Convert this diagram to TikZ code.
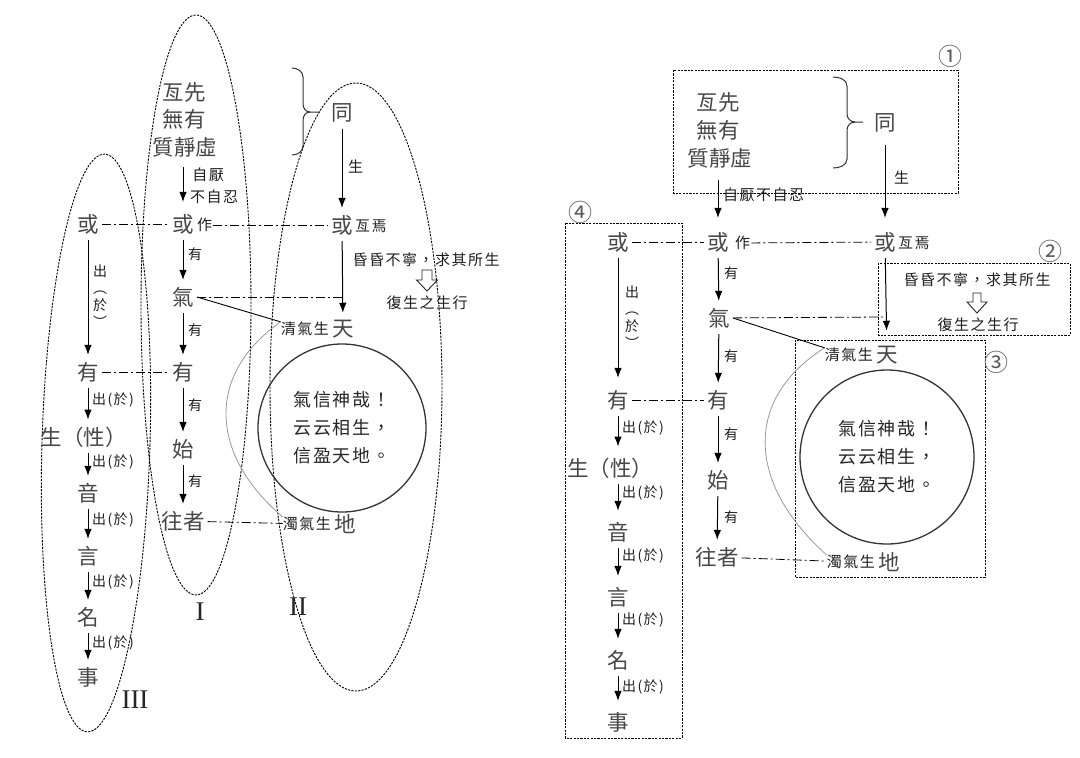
\documentclass[tikz,border=0pt]{standalone}
\usepackage{fontspec}
\setmainfont{Liberation Serif}
\newfontfamily\cjk{Noto Sans CJK TC}
\newfontfamily\cjks{Noto Sans CJK TC}[LetterSpace=10]
\usetikzlibrary{arrows.meta}
\begin{document}
\begin{tikzpicture}[x=1pt,y=-1pt,
  bigt/.style={font=\cjk\fontsize{21.5}{24}\selectfont, text=black!72, inner sep=3pt},
  smt/.style={font=\cjks\fontsize{15}{17}\selectfont, text=black!88, inner sep=1pt},
  labt/.style={font=\cjks\fontsize{14}{16}\selectfont, text=black!88, inner sep=1pt, anchor=west},
  vlab/.style={font=\cjks\fontsize{14}{17}\selectfont, text=black!88, inner sep=0pt, align=center},
  circ/.style={circle, draw=black!80, line width=1.3pt, inner sep=0pt, align=center,
    font=\cjks\fontsize{18}{28}\selectfont, text=black!85},
  numt/.style={font=\cjk\fontsize{24}{26}\selectfont, text=black!65, inner sep=0pt},
  romt/.style={font=\fontsize{27}{30}\selectfont, text=black!85, inner sep=0pt},
  arr/.style={-{Latex[length=10pt,width=7.5pt]}, line width=1pt, shorten <=3pt, shorten >=4pt},
  dd/.style={line width=0.8pt, dash pattern=on 9pt off 3pt on 2pt off 3pt},
  dsh/.style={line width=0.9pt, dash pattern=on 2.2pt off 1.2pt},
  brc/.style={line width=1pt, draw=black!80},
  gcurve/.style={line width=0.8pt, draw=black!40},
  obox/.style={line width=0.9pt, draw=black!85, line join=miter}
]
\fill[white] (0,0) rectangle (1080,758);
\useasboundingbox (0,0) rectangle (1080,758);

% ================= LEFT DIAGRAM =================
% ellipses
\draw[dsh, rotate around={-1.7:(96,443)}] (96,443) ellipse [x radius=54, y radius=289];
\draw[dsh] (196,305) ellipse [x radius=55, y radius=290];
\draw[dsh] (356,387) ellipse [x radius=86, y radius=304];

% column B top
\node[bigt] (xa1) at (184,92) {亙先};
\node[bigt] (xa2) at (184,119) {無有};
\node[bigt] (xa3) at (185,147) {質靜虛};
\node[smt] (zy1) at (208,175) {自厭};
\node[smt] (zy2) at (214,197) {不自忍};

% row 或
\node[bigt] (huoA) at (88,224) {或};
\node[bigt] (huoB) at (183,224) {或};
\node[smt, anchor=west] (zuo) at (196,225) {作};
\node[bigt] (tong) at (342,113) {同};
\node[smt, anchor=west] (sheng1) at (347,167) {生};
\node[bigt] (huoC) at (342,225) {或};
\node[smt, anchor=west] (yw) at (354,226) {亙焉};
\node[smt] (hun) at (426,260) {昏昏不寧，求其所生};
\node[smt] (fs) at (427,303) {復生之生行};

\node[bigt] (qiB) at (183,297) {氣};
\coordinate (qiend) at (342,297);
\node[bigt] (tian) at (343,329) {天};
\node[smt, anchor=east, inner sep=0pt] (qing) at (tian.west) {清氣生};
\node[bigt] (di) at (345,524) {地};
\node[smt, anchor=east, inner sep=0pt] (zhuo) at (di.west) {濁氣生};

\node[bigt] (youA) at (88,372) {有};
\node[bigt] (youB) at (183,372) {有};
\node[bigt] (shiB) at (183,449) {始};
\node[bigt] (wz) at (183,521) {往者};

\node[bigt] (sx) at (84,437) {生（性）};
\node[bigt] (yin) at (88,493) {音};
\node[bigt] (yan) at (88,556) {言};
\node[bigt] (ming) at (88,617) {名};
\node[bigt] (shi) at (88,677) {事};

\node[circ, minimum size=168pt] (cirL) at (342,428) {氣信神哉！\\云云相生，\\信盈天地。};

\node[romt] (r1) at (200,612) {I};
\node[romt] (r2) at (298,607) {II};
\node[romt] (r3) at (135,700) {III};

% labels
\node[vlab] (vl1) at (100,296) {出\\︵\\於\\︶};
\node[labt] (la1) at (91,400) {出(於)};
\node[labt] (la2) at (91,462) {出(於)};
\node[labt] (la3) at (91,520) {出(於)};
\node[labt] (la4) at (91,582) {出(於)};
\node[labt] (la5) at (91,643) {出(於)};
\node[labt] (lb1) at (187,254) {有};
\node[labt] (lb2) at (187,330) {有};
\node[labt] (lb3) at (187,405) {有};
\node[labt] (lb4) at (187,481) {有};

% arrows
\draw[arr, shorten <=7pt, shorten >=9pt] (xa3.south -| huoB) -- (huoB);
\draw[arr] (huoB) -- (qiB);
\draw[arr] (qiB) -- (youB);
\draw[arr] (youB) -- (shiB);
\draw[arr] (shiB) -- (wz);
\draw[arr] (huoA) -- (youA);
\draw[arr] (youA) -- (youA |- sx.north);
\draw[arr] (youA |- sx.south) -- (yin);
\draw[arr] (yin) -- (yan);
\draw[arr] (yan) -- (ming);
\draw[arr] (ming) -- (shi);
\draw[arr] (tong) -- (huoC);
\draw[arr] (huoC) -- (tian);

% dash-dot links
\draw[dd] (huoA) -- (huoB);
\draw[dd] (zuo) -- (huoC);
\draw[dd] (qiB) -- (qiend);
\draw[dd] (youA) -- (youB);
\draw[dd] (wz) -- (zhuo);

% solid and gray lines
\draw[line width=0.9pt] (qiB.east) -- (qing.north west);
\draw[gcurve] (qing.north west) .. controls (205,375) and (210,455) .. (zhuo.north west);

% brace
\draw[brc] (292,68) to[out=0,in=90] (303,77) -- (303,104) to[out=270,in=180] (310,112) -- (320,112);
\draw[brc] (310,112) to[out=180,in=90] (303,120) -- (303,146) to[out=270,in=0] (292,155);

% open arrow
\draw[obox] (422,270) -- (432,270) -- (432,280) -- (437.5,280) -- (427,291) -- (416.5,280) -- (422,280) -- cycle;

% ================= RIGHT DIAGRAM =================
\draw[dsh] (673,70) rectangle (958,193);
\draw[dsh] (878,263) rectangle (1070,335);
\draw[dsh] (795,340) rectangle (985,577);
\draw[dsh] (565,223) rectangle (682,738);
\node[numt] (n1) at (950,56) {①};
\node[numt] (n2) at (1050,251) {②};
\node[numt] (n3) at (996,362) {③};
\node[numt] (n4) at (580,212) {④};

\node[bigt] (xb1) at (718,102) {亙先};
\node[bigt] (xb2) at (718,130) {無有};
\node[bigt] (xb3) at (720,158) {質靜虛};
\node[bigt] (tongR) at (885,123) {同};
\node[smt, anchor=west] (sheng2) at (893,178) {生};
\node[smt, anchor=west] (zyR) at (722,195) {自厭不自忍};

\node[bigt] (huoAR) at (618,242) {或};
\node[bigt] (huoBR) at (718,242) {或};
\node[smt, anchor=west] (zuoR) at (734,243) {作};
\node[bigt] (huoCR) at (885,242) {或};
\node[smt, anchor=west] (ywR) at (897,243) {亙焉};
\node[smt] (hunR) at (977,280) {昏昏不寧，求其所生};
\node[smt] (fsR) at (978,325) {復生之生行};

\node[bigt] (qiBR) at (719,318) {氣};
\coordinate (qiendR) at (885,317);
\node[bigt] (tianR) at (887,355) {天};
\node[smt, anchor=east, inner sep=0pt] (qingR) at (tianR.west) {清氣生};
\node[bigt] (diR) at (889,562) {地};
\node[smt, anchor=east, inner sep=0pt] (zhuoR) at (diR.west) {濁氣生};

\node[bigt] (youAR) at (618,400) {有};
\node[bigt] (youBR) at (718,400) {有};
\node[bigt] (shiBR) at (718,480) {始};
\node[bigt] (wzR) at (717,557) {往者};

\node[bigt] (sxR) at (610,468) {生（性）};
\node[bigt] (yinR) at (618,532) {音};
\node[bigt] (yanR) at (618,597) {言};
\node[bigt] (mingR) at (618,660) {名};
\node[bigt] (shiR) at (618,722) {事};

\node[circ, minimum size=174pt] (cirR) at (887,457) {氣信神哉！\\云云相生，\\信盈天地。};

\node[vlab] (vl2) at (632,317) {出\\︵\\於\\︶};
\node[labt] (ra1) at (621,428) {出(於)};
\node[labt] (ra2) at (621,493) {出(於)};
\node[labt] (ra3) at (621,556) {出(於)};
\node[labt] (ra4) at (621,620) {出(於)};
\node[labt] (ra5) at (621,687) {出(於)};
\node[labt] (rb1) at (723,273) {有};
\node[labt] (rb2) at (723,356) {有};
\node[labt] (rb3) at (723,434) {有};
\node[labt] (rb4) at (723,517) {有};

\draw[arr, shorten <=9pt, shorten >=11pt] (xb3.south -| huoBR) -- (huoBR);
\draw[arr] (huoBR) -- (qiBR);
\draw[arr] (qiBR) -- (youBR);
\draw[arr] (youBR) -- (shiBR);
\draw[arr] (shiBR) -- (wzR);
\draw[arr, shorten >=9pt] (huoAR) -- (youAR);
\draw[arr, shorten >=8pt] (youAR) -- (youAR |- sxR.north);
\draw[arr, shorten >=8pt] (youAR |- sxR.south) -- (yinR);
\draw[arr, shorten >=8pt] (yinR) -- (yanR);
\draw[arr, shorten >=8pt] (yanR) -- (mingR);
\draw[arr, shorten >=8pt] (mingR) -- (shiR);
\draw[arr, shorten <=9pt, shorten >=11pt] (tongR) -- (huoCR);
\draw[arr, shorten >=12pt] (huoCR) -- (tianR);

\draw[dd] (huoAR) -- (huoBR);
\draw[dd] (zuoR) -- (huoCR);
\draw[dd] (qiBR) -- (qiendR);
\draw[dd] (youAR) -- (youBR);
\draw[dd] (wzR) -- (zhuoR);

\draw[line width=0.9pt] (qiBR.east) -- (qingR.north west);
\draw[gcurve] (qingR.north west) .. controls (742,400) and (748,485) .. (zhuoR.north west);

\draw[brc] (833,77) to[out=0,in=90] (847,86) -- (847,114) to[out=270,in=180] (855,122) -- (863,122);
\draw[brc] (855,122) to[out=180,in=90] (847,130) -- (847,159) to[out=270,in=0] (833,168);

\draw[obox] (973,293) -- (981,293) -- (981,302) -- (987,302) -- (977,313) -- (967,302) -- (973,302) -- cycle;
\end{tikzpicture}
\end{document}
